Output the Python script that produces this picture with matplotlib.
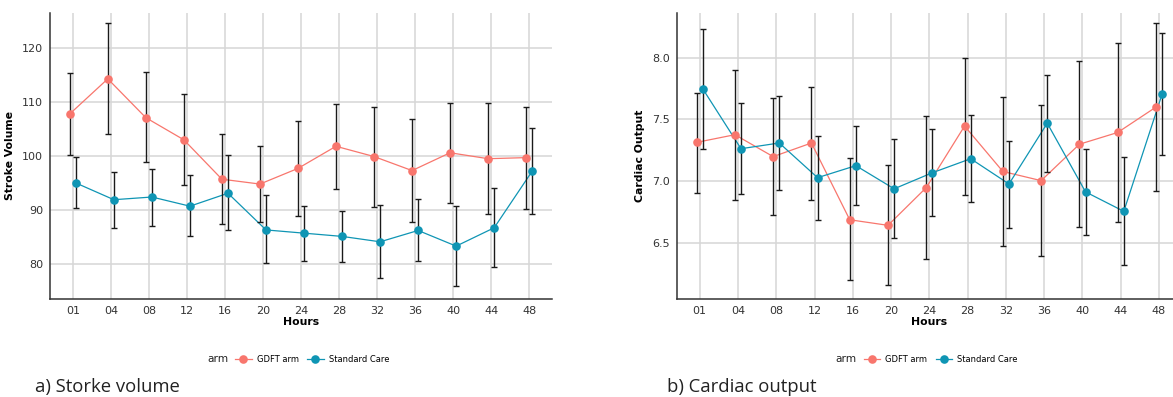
import matplotlib
matplotlib.use("Agg")
import matplotlib.pyplot as plt
from matplotlib.lines import Line2D
import numpy as np

hours = ["01", "04", "08", "12", "16", "20", "24", "28", "32", "36", "40", "44", "48"]

# stroke volume
sv_gdft = [107.8, 114.3, 107.1, 103.0, 95.7, 94.8, 97.7, 101.8, 99.9, 97.3, 100.6, 99.5, 99.7]
sv_gdft_hi = [115.4, 124.7, 115.5, 111.5, 104.1, 101.8, 106.5, 109.7, 109.1, 106.9, 109.9, 109.9, 109.1]
sv_gdft_lo = [100.2, 104.0, 98.8, 94.6, 87.4, 87.7, 88.9, 93.9, 90.5, 87.8, 91.2, 89.2, 90.2]
sv_sc = [95.0, 91.9, 92.4, 90.7, 93.1, 86.3, 85.7, 85.1, 84.1, 86.2, 83.3, 86.7, 97.2]
sv_sc_hi = [99.8, 97.0, 97.6, 96.4, 100.1, 92.7, 90.8, 89.8, 90.9, 92.0, 90.8, 94.0, 105.2]
sv_sc_lo = [90.4, 86.7, 87.1, 85.2, 86.2, 80.1, 80.6, 80.4, 77.3, 80.6, 75.9, 79.4, 89.3]

# cardiac output
co_gdft = [7.315, 7.377, 7.20, 7.31, 6.69, 6.645, 6.95, 7.447, 7.08, 7.006, 7.30, 7.395, 7.60]
co_gdft_hi = [7.71, 7.90, 7.67, 7.76, 7.19, 7.135, 7.53, 8.00, 7.68, 7.62, 7.97, 8.12, 8.28]
co_gdft_lo = [6.91, 6.85, 6.73, 6.85, 6.20, 6.16, 6.37, 6.89, 6.48, 6.395, 6.635, 6.675, 6.92]
co_sc = [7.748, 7.264, 7.31, 7.03, 7.127, 6.94, 7.07, 7.183, 6.979, 7.47, 6.915, 6.758, 7.705]
co_sc_hi = [8.23, 7.63, 7.69, 7.366, 7.45, 7.34, 7.42, 7.54, 7.326, 7.863, 7.264, 7.20, 8.20]
co_sc_lo = [7.264, 6.90, 6.93, 6.69, 6.81, 6.544, 6.72, 6.83, 6.624, 7.076, 6.565, 6.323, 7.213]

RED = "#F8766D"
BLUE = "#0F95B4"
GRID = "#D6D6D6"

W, H = 1173, 397
fig = plt.figure(figsize=(W / 100, H / 100), dpi=100)


def panel(rect, series, ylim, yticks, ylabel):
    ax = fig.add_axes(rect)
    x = np.arange(1, len(hours) + 1)
    for vals, lo, hi, col, dx in series:
        xs = x + dx
        ax.plot(xs, vals, color=col, lw=0.9, zorder=3)
        yerr = [np.array(vals) - np.array(lo), np.array(hi) - np.array(vals)]
        ax.errorbar(xs, vals, yerr=yerr, fmt="none", ecolor="#1a1a1a",
                    elinewidth=1.0, capsize=2.2, capthick=1.0, zorder=4)
        ax.plot(xs, vals, "o", color=col, ms=6.2, mec="none", zorder=5)
    ax.set_xlim(0.4, 13.6)
    ax.set_ylim(*ylim)
    ax.set_xticks(x)
    ax.set_xticklabels(hours)
    ax.set_yticks(yticks)
    ax.grid(True, color=GRID, lw=1.1)
    ax.set_axisbelow(True)
    for s in ["top", "right"]:
        ax.spines[s].set_visible(False)
    for s in ["left", "bottom"]:
        ax.spines[s].set_color("#333333")
        ax.spines[s].set_linewidth(1.1)
    ax.tick_params(length=0, pad=5, labelsize=8, colors="#333333")
    ax.set_xlabel("Hours", fontsize=7.8, fontweight="bold", labelpad=1)
    ax.set_ylabel(ylabel, fontsize=7.8, fontweight="bold", labelpad=5)
    return ax


bottom = 1 - 299 / H
height = 286 / H
panel([50 / W, bottom, 502 / W, height],
      [(sv_gdft, sv_gdft_lo, sv_gdft_hi, RED, -0.08),
       (sv_sc, sv_sc_lo, sv_sc_hi, BLUE, 0.08)],
      (73.5, 126.5), [80, 90, 100, 110, 120], "Stroke Volume")
panel([676.7 / W, bottom, 505.3 / W, height],
      [(co_gdft, co_gdft_lo, co_gdft_hi, RED, -0.08),
       (co_sc, co_sc_lo, co_sc_hi, BLUE, 0.08)],
      (6.05, 8.36), [6.5, 7.0, 7.5, 8.0], "Cardiac Output")

handles = [Line2D([], [], color=RED, lw=0.9, marker="o", ms=6.2, mec="none"),
           Line2D([], [], color=BLUE, lw=0.9, marker="o", ms=6.2, mec="none")]
labels = ["GDFT arm", "Standard Care"]
for x0 in (207, 835.7):
    fig.text(x0 / W, 1 - 359 / H, "arm", fontsize=7.6, color="#222222",
             ha="left", va="center")
    fig.legend(handles, labels, loc="center left",
               bbox_to_anchor=((x0 + 28) / W, 1 - 359 / H), ncol=2,
               frameon=False, fontsize=6.0, borderpad=0, borderaxespad=0,
               handlelength=2.0, handletextpad=0.6, columnspacing=1.0)

fig.text(35 / W, 1 - 387 / H, "a) Storke volume", fontsize=13.3,
         family="Open Sans", ha="left", va="center", color="#222222")
fig.text(667 / W, 1 - 387 / H, "b) Cardiac output", fontsize=13.3,
         family="Open Sans", ha="left", va="center", color="#222222")

fig.savefig("out.png", dpi=100)
